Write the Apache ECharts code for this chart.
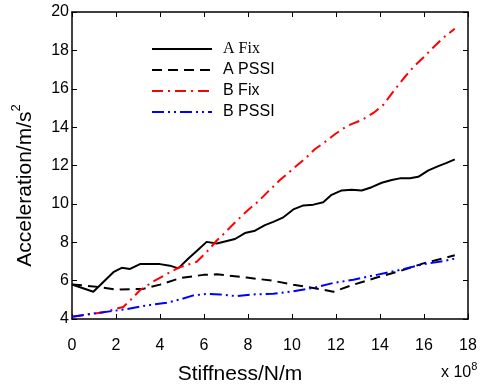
<!DOCTYPE html>
<html>
<head>
<meta charset="utf-8">
<script src="https://cdn.jsdelivr.net/npm/echarts@6/dist/echarts.min.js"></script>
<style>html,body{margin:0;padding:0;background:#fff;}#c{width:488px;height:390px;}</style>
</head>
<body>
<div id="c"></div>
<script>
var seriesNames = ['A Fix', 'A PSSI', 'B Fix', 'B PSSI'];
var xTicks = [0, 2, 4, 6, 8, 10, 12, 14, 16, 18];
var yTicks = [4, 6, 8, 10, 12, 14, 16, 18, 20];

var aFixX = [0, 0.97, 1.88, 2.26, 2.64, 3.09, 4.0, 4.45, 4.83, 5.29, 5.67, 6.12, 6.58, 7.41, 7.86, 8.32, 8.77, 9.15, 9.58, 10.06, 10.52, 10.97, 11.42, 11.8, 12.26, 12.71, 13.17, 13.62, 14.08, 14.53, 14.9, 15.36, 15.74, 16.2, 16.65, 17.03, 17.4];
var aFixY = [5.8, 5.42, 6.44, 6.67, 6.61, 6.86, 6.86, 6.78, 6.64, 7.15, 7.54, 8.02, 7.93, 8.17, 8.48, 8.6, 8.89, 9.06, 9.28, 9.71, 9.92, 9.96, 10.08, 10.47, 10.7, 10.73, 10.7, 10.87, 11.1, 11.24, 11.33, 11.33, 11.41, 11.75, 11.97, 12.14, 12.32];

var aPssiX = [0, 0.97, 2.03, 3.24, 4.0, 4.91, 5.97, 6.58, 7.94, 9.15, 10.06, 10.97, 11.88, 12.79, 13.85, 14.91, 15.97, 17.4];
var aPssiY = [5.8, 5.7, 5.53, 5.57, 5.79, 6.13, 6.3, 6.33, 6.16, 5.99, 5.79, 5.62, 5.42, 5.79, 6.16, 6.5, 6.9, 7.32];

var bFixX = [0, 1.42, 2.33, 2.71, 3.09, 3.7, 4.83, 5.67, 6.12, 6.58, 6.88, 7.48, 7.94, 8.47, 8.92, 9.45, 10.06, 10.59, 11.05, 11.58, 11.95, 12.49, 13.2, 13.7, 14.15, 14.6, 15.06, 15.51, 15.97, 16.42, 16.88, 17.4];
var bFixY = [4.12, 4.35, 4.63, 5.05, 5.5, 5.96, 6.67, 6.98, 7.49, 8.09, 8.42, 9.11, 9.62, 10.13, 10.65, 11.24, 11.84, 12.35, 12.86, 13.29, 13.63, 14.05, 14.39, 14.74, 15.16, 15.85, 16.52, 17.12, 17.63, 18.15, 18.66, 19.13];

var bPssiX = [0, 1.12, 2.48, 3.24, 4.3, 4.91, 5.52, 6.12, 6.73, 7.48, 8.24, 9.15, 10.06, 10.97, 11.88, 12.79, 13.85, 14.91, 15.97, 16.88, 17.4];
var bPssiY = [4.12, 4.31, 4.51, 4.68, 4.85, 5.02, 5.23, 5.31, 5.28, 5.19, 5.28, 5.31, 5.45, 5.62, 5.88, 6.05, 6.3, 6.56, 6.85, 7.02, 7.15];

function pairs(xs, ys) { return xs.map(function (x, i) { return [x, ys[i]]; }); }

var FONT = 'Liberation Sans, Arial, sans-serif';
var chart = echarts.init(document.getElementById('c'), null, {renderer: 'canvas'});

var axisCommon = {
  axisLine: {show: true, onZero: false, lineStyle: {color: '#000', width: 1.5}},
  axisTick: {show: true, inside: true, length: 5, lineStyle: {color: '#000', width: 1}},
  splitLine: {show: false}
};

var option = {
  backgroundColor: '#fff',
  animation: false,
  grid: {left: 72, top: 12, right: 20, bottom: 65, containLabel: false},
  legend: {
    orient: 'vertical', left: 146, top: 36,
    itemWidth: 60, itemHeight: 14, itemGap: 5,
    itemStyle: {opacity: 0, borderWidth: 0},
    textStyle: {fontFamily: FONT, fontSize: 16, color: '#000', padding: [0, 0, 0, 6]},
    data: [
      {name: 'A Fix', textStyle: {fontFamily: 'Liberation Serif, Times New Roman, serif', fontSize: 16}},
      {name: 'A PSSI'}, {name: 'B Fix'}, {name: 'B PSSI'}
    ]
  },
  xAxis: [
    Object.assign({
      type: 'value', min: xTicks[0], max: xTicks[xTicks.length - 1], interval: 2, position: 'bottom',
      axisLabel: {fontFamily: FONT, fontSize: 16, color: '#000', margin: 19},
      name: 'Stiffness/N/m', nameLocation: 'middle', nameGap: 45,
      nameTextStyle: {fontFamily: FONT, fontSize: 21, color: '#000', padding: [0, 60, 0, 0]}
    }, axisCommon),
    Object.assign({
      type: 'value', min: xTicks[0], max: xTicks[xTicks.length - 1], interval: 2, position: 'top',
      axisLabel: {show: false}
    }, axisCommon)
  ],
  yAxis: [
    Object.assign({
      type: 'value', min: yTicks[0], max: yTicks[yTicks.length - 1], interval: 2, position: 'left',
      axisLabel: {fontFamily: FONT, fontSize: 16, color: '#000', margin: 3, padding: [5, 0, 0, 0]},
      name: '{a|Acceleration/m/s}{s|2}', nameLocation: 'middle', nameGap: 36, nameRotate: 90,
      nameTextStyle: {
        padding: [0, 40, 0, 0],
        rich: {
          a: {fontFamily: FONT, fontSize: 21, color: '#000', lineHeight: 26, verticalAlign: 'bottom'},
          s: {fontFamily: FONT, fontSize: 13, color: '#000', lineHeight: 26, verticalAlign: 'top'}
        }
      }
    }, axisCommon),
    Object.assign({
      type: 'value', min: yTicks[0], max: yTicks[yTicks.length - 1], interval: 2, position: 'right',
      axisLabel: {show: false}
    }, axisCommon)
  ],
  graphic: [
    {
      type: 'text', left: 441, top: 361,
      style: {
        text: '{a|x 10}{s|8}',
        rich: {
          a: {fontFamily: FONT, fontSize: 16, fill: '#000', lineHeight: 20, verticalAlign: 'bottom'},
          s: {fontFamily: FONT, fontSize: 11, fill: '#000', lineHeight: 20, verticalAlign: 'top'}
        }
      }
    }
  ],
  series: [
    {name: seriesNames[0], type: 'line', data: pairs(aFixX, aFixY), symbol: 'none', smooth: false,
     color: '#000', lineStyle: {color: '#000', width: 2, type: 'solid'}},
    {name: seriesNames[1], type: 'line', data: pairs(aPssiX, aPssiY), symbol: 'none',
     color: '#000', lineStyle: {color: '#000', width: 2, type: [10, 6]}},
    {name: seriesNames[2], type: 'line', data: pairs(bFixX, bFixY), symbol: 'none',
     color: '#ff0000', lineStyle: {color: '#ff0000', width: 2, type: [11, 5, 2, 5]}},
    {name: seriesNames[3], type: 'line', data: pairs(bPssiX, bPssiY), symbol: 'none',
     color: '#0000ff', lineStyle: {color: '#0000ff', width: 2, type: [12, 4, 2, 4, 2, 4]}}
  ]
};
chart.setOption(option);
</script>
</body>
</html>
